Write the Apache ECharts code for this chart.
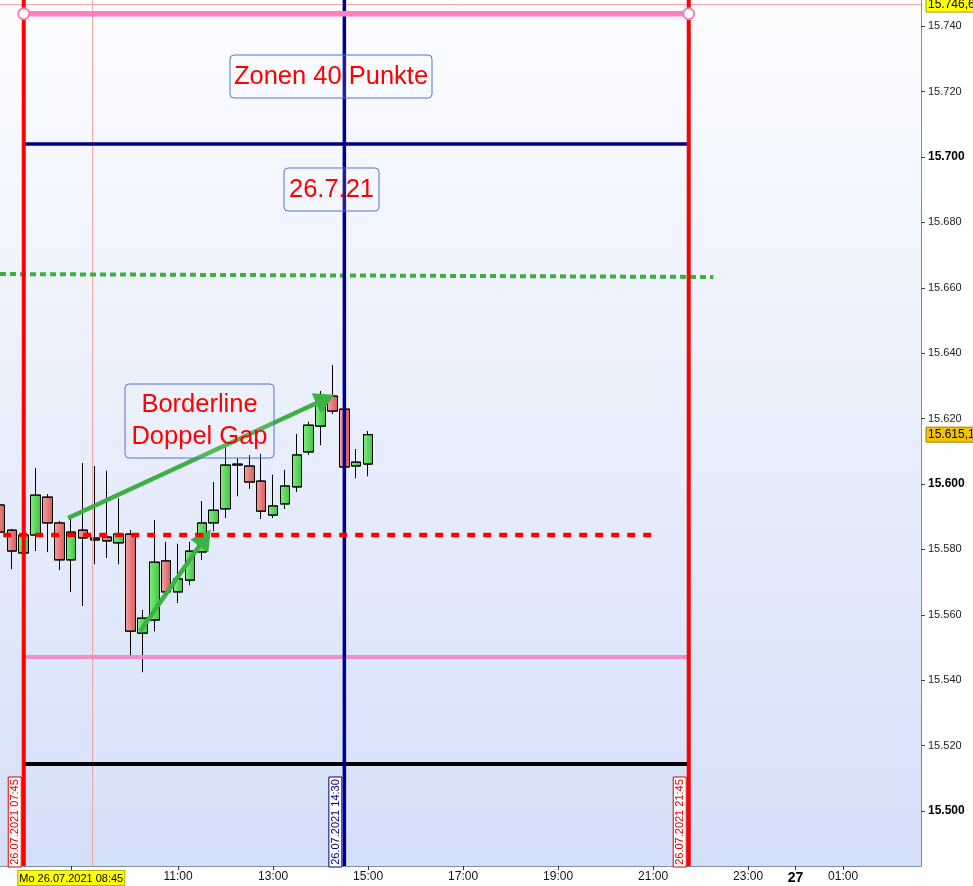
<!DOCTYPE html>
<html><head><meta charset="utf-8">
<script src="https://cdn.jsdelivr.net/npm/echarts@6/dist/echarts.min.js"></script>
<style>html,body{margin:0;padding:0;background:#fff}#c{width:973px;height:886px}</style>
</head><body><div id="c"></div>
<script>
// ---- data (times as HH:MM on 26.07.2021, values in index points) ----
const times  = ['07:15','07:30','07:45','08:00','08:15','08:30','08:45','09:00','09:15','09:30','09:45','10:00','10:15','10:30','10:45','11:00','11:15','11:30','11:45','12:00','12:15','12:30','12:45','13:00','13:15','13:30','13:45','14:00','14:15','14:30','14:45','15:00'];
const opens  = [15593.6,15585.9,15578.9,15584.4,15596.0,15588.1,15576.8,15585.9,15583.5,15583.8,15582.0,15584.7,15554.4,15558.4,15576.5,15567.0,15570.6,15579.2,15588.1,15592.4,15606.1,15605.5,15600.9,15590.5,15593.9,15599.1,15609.8,15617.7,15626.9,15622.9,15605.5,15606.1];
const closes = [15585.3,15579.5,15584.4,15596.6,15588.1,15576.8,15585.3,15583.5,15582.9,15582.6,15584.7,15555.0,15559.0,15576.1,15567.0,15571.0,15579.5,15588.1,15592.0,15605.8,15605.8,15600.6,15591.7,15593.3,15599.4,15608.9,15618.0,15625.1,15622.3,15605.2,15606.7,15615.1];
const lows   = [15583.2,15574.0,15578.3,15579.5,15579.2,15573.7,15567.0,15562.7,15575.5,15577.4,15575.5,15547.4,15542.5,15555.0,15565.8,15563.6,15569.1,15576.8,15585.6,15589.6,15596.3,15598.5,15589.3,15589.6,15592.4,15597.6,15608.9,15611.9,15621.4,15605.2,15601.8,15602.4];
const highs  = [15594.5,15586.2,15585.0,15604.9,15596.9,15588.7,15589.6,15606.4,15605.5,15604.0,15595.7,15585.9,15561.5,15589.0,15582.3,15581.7,15582.3,15594.8,15600.6,15611.6,15607.9,15608.9,15609.2,15602.8,15604.3,15615.3,15619.0,15628.4,15636.4,15622.9,15610.7,15616.2];

const yTicks = [15500,15520,15540,15560,15580,15600,15620,15640,15660,15680,15700,15720,15740];
const xTickTimes  = ['08:45','11:00','13:00','15:00','17:00','19:00','21:00','23:00','24:00','25:00'];
const xTickLabels = ['Mo 26.07.2021 08:45','11:00','13:00','15:00','17:00','19:00','21:00','23:00','27','01:00'];

const zoneStart = '07:45', zoneMid = '14:30', zoneEnd = '21:45';
const zoneTopLevel   = 15743.8;
const zoneBlueLevel  = 15704.0;
const greenLevels    = [15664.2, 15663.3];
const greenRange     = ['07:15','22:16'];
const redDashLevel   = 15584.4;
const redDashRange   = ['07:19','20:59'];
const pinkLevel      = 15547.1;
const blackLevel     = 15514.4;
const arrow1 = [['08:41',15589.6],['14:06',15626.0]];
const arrow2 = [['10:12',15555.0],['11:34',15583.6]];
const cursorTime  = '09:12';
const cursorValue = 15746.6;
const lastValue   = 15615.1;
const lastLabel   = '15.615,1';
const cursorLabel = '15.746,6';

// ---- helpers ----
const toMin = s => { const [h,m] = s.split(':').map(Number); return h*60+m; };
const X_MIN = 435, X_MAX = 1598.4, Y_MIN = 15483.2, Y_MAX = 15748.0;
const fmtY = v => { const i = Math.floor(v/1000); return i + '.' + String(Math.round(v - i*1000)).padStart(3,'0'); };
const ARIAL = '"Liberation Sans",Arial,sans-serif';

function seg(pts, color, width, type, z, extra){
  return Object.assign({type:'line', data:pts, symbol:'none', silent:true, animation:false, z:z||3,
    lineStyle:{color, width, type:type||'solid', cap:'butt'}}, extra||{});
}
const hLine = (v, a, b) => [[toMin(a), v],[toMin(b), v]];
const vLine = t => [[toMin(t), Y_MIN],[toMin(t), Y_MAX]];

const greenGrad = new echarts.graphic.LinearGradient(0,0,1,0,[{offset:0,color:'#86ec86'},{offset:1,color:'#3cc43c'}]);
const redGrad   = new echarts.graphic.LinearGradient(0,0,1,0,[{offset:0,color:'#f4a4a4'},{offset:1,color:'#d85858'}]);

const chart = echarts.init(document.getElementById('c'), null, {renderer:'canvas'});

const option = {
  animation:false,
  grid:{left:0, right:52, top:0, bottom:20, show:true, borderWidth:0, containLabel:false, outerBoundsMode:'none',
    backgroundColor:new echarts.graphic.LinearGradient(0,0,0,1,[{offset:0,color:'#fcfdff'},{offset:1,color:'#d4dff8'}])},
  xAxis:{type:'value', min:X_MIN, max:X_MAX, splitLine:{show:false},
    axisLine:{show:true, onZero:false, lineStyle:{color:'#7f8f9f', width:1}},
    axisTick:{show:true, length:4, customValues:xTickTimes.map(toMin), lineStyle:{color:'#333'}},
    axisLabel:{customValues:xTickTimes.map(toMin), margin:5, color:'#111', fontSize:12, fontFamily:ARIAL,
      formatter:v=>{ const i = xTickTimes.map(toMin).findIndex(t=>Math.abs(t-v)<0.5); const s = i>=0?xTickLabels[i]:'';
        if (i===0) return '{y|'+s+'}'; if (s==='27') return '{d|'+s+'}'; return s; },
      rich:{y:{backgroundColor:'#ffff00', borderColor:'#b0b000', borderWidth:1, padding:[2,1,1,1], color:'#000', fontSize:11, fontFamily:ARIAL},
            d:{fontWeight:'bold', fontSize:14, fontFamily:ARIAL, color:'#000'}}}},
  yAxis:{type:'value', position:'right', min:Y_MIN, max:Y_MAX, splitLine:{show:false}, scale:true,
    axisLine:{show:true, lineStyle:{color:'#7f8f9f'}},
    axisTick:{show:true, length:4, customValues:yTicks, lineStyle:{color:'#444'}},
    axisLabel:{customValues:yTicks, margin:7, color:'#222', fontSize:11, fontFamily:ARIAL,
      formatter:v=> (Math.round(v)%100===0 ? '{b|'+fmtY(v)+'}' : fmtY(v)),
      rich:{b:{fontWeight:'bold', fontSize:12, color:'#000', fontFamily:ARIAL}}}},
  series:[
    {type:'candlestick', z:2, animation:false, silent:true, barWidth:10,
     data: times.map((t,i)=>[toMin(t), opens[i], closes[i], lows[i], highs[i]]),
     encode:{x:0, y:[1,2,3,4]},
     itemStyle:{color:greenGrad, color0:redGrad, borderColor:'#000', borderColor0:'#000', borderColorDoji:'#000', borderWidth:1}},
    // cursor crosshair
    seg([[X_MIN,cursorValue],[X_MAX,cursorValue]], '#f0a0a0', 1, 'solid', 3),
    seg(vLine(cursorTime), '#f0a0a0', 1, 'solid', 3),
    // horizontal zone lines
    seg(hLine(zoneBlueLevel, zoneStart, zoneEnd), '#00008b', 3.5, 'solid', 4),
    seg(hLine(pinkLevel, zoneStart, zoneEnd), '#f08cc8', 4, 'solid', 4),
    seg(hLine(blackLevel, zoneStart, zoneEnd), '#000000', 4, 'solid', 4),
    seg([[toMin(greenRange[0]), greenLevels[0]],[toMin(greenRange[1]), greenLevels[1]]], '#3cb03c', 4, [6,4], 4),
    seg(hLine(redDashLevel, redDashRange[0], redDashRange[1]), '#ff0000', 4.5, [8,8], 6),
    // vertical lines
    seg(vLine(zoneStart), '#ff0000', 4, 'solid', 5),
    seg(vLine(zoneMid), '#000090', 3.5, 'solid', 5),
    seg(vLine(zoneEnd), '#ff0000', 4, 'solid', 5),
    // top pink line with hollow end points
    seg(hLine(zoneTopLevel, zoneStart, zoneEnd), '#ff80c0', 5.5, 'solid', 7,
      {symbol:'circle', showSymbol:true, symbolSize:11, itemStyle:{color:'#ffffff', borderColor:'#f080b8', borderWidth:2}}),
    // arrows
    {type:'line', data:[], z:8, silent:true, animation:false,
     markLine:{silent:true, animation:false, symbol:['none','triangle'], symbolSize:[22,20],
       lineStyle:{color:'#3cb043', width:4.5, type:'solid'}, itemStyle:{color:'#3cb043'}, label:{show:false},
       emphasis:{disabled:true},
       data:[[{coord:[toMin(arrow1[0][0]),arrow1[0][1]]},{coord:[toMin(arrow1[1][0]),arrow1[1][1]]}],
             [{coord:[toMin(arrow2[0][0]),arrow2[0][1]]},{coord:[toMin(arrow2[1][0]),arrow2[1][1]]}]]}}
  ]
};
chart.setOption(option);

// ---- annotations anchored through the axes ----
const px = (t,v) => chart.convertToPixel({gridIndex:0}, [t, v]);
const boxText = (x,y,w,h,lines,lh) => {
  const children = [{type:'rect', z:20, shape:{x,y,width:w,height:h,r:4}, style:{fill:'rgba(255,255,255,0.12)', stroke:'#4f74d4', lineWidth:1}}];
  lines.forEach((s,i)=>children.push({type:'text', z:21, x:x+w/2, y:y+h/2+(i-(lines.length-1)/2)*lh,
    style:{text:s, fill:'#ff0000', font:'25.5px '+ARIAL, align:'center', verticalAlign:'middle'}}));
  return {type:'group', children};
};
const vLabel = (t, text, color) => {
  const cx = px(toMin(t), Y_MIN)[0] - 9;
  return {type:'group', children:[
    {type:'rect', z:20, shape:{x:cx-6.5, y:777, width:13, height:90}, style:{fill:'#ffffff', stroke:color, lineWidth:1}},
    {type:'text', z:21, x:cx+0.5, y:822, rotation:Math.PI/2, style:{text, fill:color, font:'11px '+ARIAL, align:'center', verticalAlign:'middle'}}
  ]};
};
const yTag = (v, text, bg, border) => {
  const y = px(X_MIN, v)[1];
  return {type:'group', children:[
    {type:'rect', z:20, shape:{x:926, y:y-7.5, width:48, height:15}, style:{fill:bg, stroke:border, lineWidth:1}},
    {type:'text', z:21, x:928, y:y, style:{text, fill:'#000', font:'12px '+ARIAL, align:'left', verticalAlign:'middle'}}
  ]};
};
chart.setOption({graphic:[
  boxText(230, 55, 202, 43, ['Zonen 40 Punkte'], 32),
  boxText(284, 168, 95, 43, ['26.7.21'], 32),
  boxText(125, 384, 149, 74, ['Borderline','Doppel Gap'], 32),
  vLabel(zoneStart, '26.07.2021 07:45', '#e00000'),
  vLabel(zoneMid, '26.07.2021 14:30', '#000080'),
  vLabel(zoneEnd, '26.07.2021 21:45', '#e00000'),
  yTag(cursorValue, cursorLabel, '#ffff00', '#a0a000'),
  yTag(lastValue, lastLabel, '#f5c400', '#a08000')
]});
</script></body></html>
